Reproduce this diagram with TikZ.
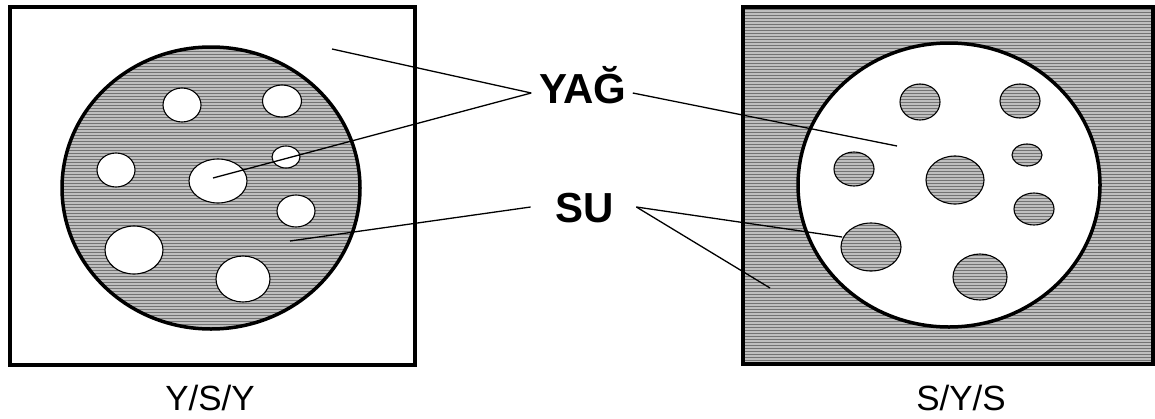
\documentclass[tikz,border=0pt]{standalone}
\usepackage{fontspec}
\setmainfont{Liberation Sans}
\usetikzlibrary{patterns,calc}
\begin{document}
\begin{tikzpicture}[x=1pt,y=-1pt,
  frame/.style={draw=black,line width=3.5pt},
  ring/.style={draw=black,line width=3.5pt},
  shaded/.style={preaction={fill=gray!50}, pattern=horizontal lines, pattern color=black!55},
  blob/.style={draw=black,line width=1.1pt},
  leader/.style={draw=black,line width=1.3pt},
  biglabel/.style={font=\fontsize{42}{42}\selectfont\bfseries, inner sep=0pt, anchor=base},
  caption/.style={font=\fontsize{35}{35}\selectfont, inner sep=0pt, anchor=base}]
\useasboundingbox (0,0) rectangle (1155,418);

% ---- left panel: Y/S/Y ----
\path[fill=white] (10,7) rectangle (415,365);
\path[shaded] (211,188) ellipse [x radius=149, y radius=141];
\draw[ring] (211,188) ellipse [x radius=149, y radius=141];
\foreach \x/\y/\a/\b in {182/105/19/17, 282/101/19.5/16, 116/170/19/17, 218/181/29/22,
  286/157/14/11, 296/211/19/16, 134/250/29/24, 243/279/27/23}
  \draw[blob, fill=white] (\x,\y) ellipse [x radius=\a, y radius=\b];
\draw[frame] (10,7) rectangle (415,365);

% ---- right panel: S/Y/S ----
\path[shaded] (743,7) rectangle (1153,364);
\path[fill=white] (949,185) ellipse [x radius=151, y radius=142];
\draw[ring] (949,185) ellipse [x radius=151, y radius=142];
\foreach \x/\y/\a/\b in {920/102/20/18, 1020/101/20/17, 854/169/20/17, 955/180/29/24,
  1027/155/15/11, 1034/209/20/16, 871/247/30/24, 980/277/27/23}
  \path[blob, shaded] (\x,\y) ellipse [x radius=\a, y radius=\b];
\draw[frame] (743,7) rectangle (1153,364);

% ---- labels ----
\node[biglabel] (yag) at (583,103) {YAĞ};
\node[biglabel] (su) at (585,222) {SU};
\node[caption] (ysy) at (210,410) {Y/S/Y};
\node[caption] (sys) at (961,410) {S/Y/S};

% ---- leader end points ----
\coordinate (oilOut) at (332,49);
\coordinate (oilDrop) at (213,178);
\coordinate (oilIn) at (897,146);
\coordinate (waterIn) at (290,241);
\coordinate (waterDrop) at (842,237);
\coordinate (waterOut) at (770,288);

\draw[leader] ($(yag.base west)+(-8,-10)$) -- (oilOut);
\draw[leader] ($(yag.base west)+(-8,-10)$) -- (oilDrop);
\draw[leader] ($(yag.base east)+(6,-10)$) -- (oilIn);
\draw[leader] ($(su.base west)+(-25,-15)$) -- (waterIn);
\draw[leader] ($(su.base east)+(22,-15)$) -- (waterDrop);
\draw[leader] ($(su.base east)+(22,-15)$) -- (waterOut);
\end{tikzpicture}
\end{document}
